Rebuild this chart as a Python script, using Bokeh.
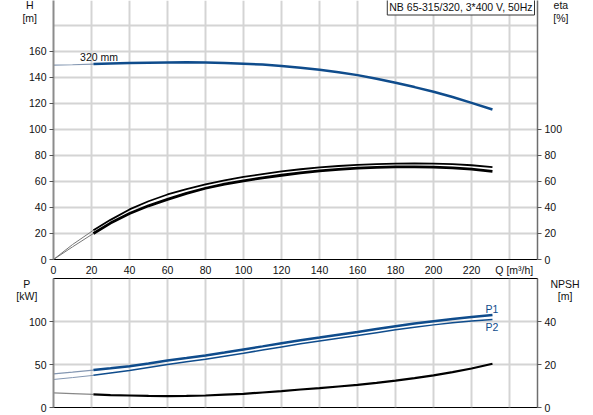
from bokeh.plotting import figure
from bokeh.models import Range1d, LinearAxis, FixedTicker, Label
from bokeh.layouts import column
from bokeh.embed import file_html
from bokeh.resources import INLINE

# ---------------- data ----------------
TITLE = "NB 65-315/320, 3*400 V, 50Hz"
CURVE_LABEL = "320 mm"
Q_LABEL = "Q [m\u00b3/h]"
Q_LABEL_POS = 242.5
X_TICKS = [0, 20, 40, 60, 80, 100, 120, 140, 160, 180, 200, 220]
X_GRID = [20, 40, 60, 80, 100, 120, 140, 160, 180, 200, 220, 240]
H_TICKS = [0, 20, 40, 60, 80, 100, 120, 140, 160]
H_GRID = [20, 40, 60, 80, 100, 120, 140, 160, 180]
ETA_TICKS = [0, 20, 40, 60, 80, 100]
P_TICKS = [0, 50, 100]
NPSH_TICKS = [0, 20, 40]

Q = [0, 10, 21, 30, 40, 50, 60, 70, 80, 90, 100, 110, 120, 130, 140, 150, 160,
     170, 180, 190, 200, 210, 220, 231]
H_320 = [149.5, 149.8, 150.3, 150.7, 151.1, 151.4, 151.6, 151.7, 151.6, 151.2, 150.6,
         149.9, 148.9, 147.5, 145.9, 144.0, 141.8, 139.0, 135.9, 132.6, 129.0, 125.0,
         120.5, 115.4]
ETA_A = [0, 11.5, 22.5, 30.5, 38.5, 44.8, 50.0, 54.2, 57.7, 60.8, 63.5, 65.7, 67.7,
         69.4, 70.8, 71.9, 72.8, 73.4, 73.8, 74.0, 73.8, 73.3, 72.5, 71.0]
ETA_B = [0, 9.7, 20.0, 28.0, 35.4, 41.3, 46.2, 50.8, 54.8, 57.9, 60.5, 62.8, 64.8,
         66.6, 68.1, 69.3, 70.2, 70.8, 71.2, 71.3, 71.0, 70.5, 69.5, 67.7]
P1 = [39.2, 41.3, 43.7, 45.8, 48.2, 51.4, 54.8, 57.7, 60.7, 64.1, 67.7, 71.3, 75.0,
      78.5, 81.6, 85.0, 88.2, 91.6, 94.9, 97.9, 100.7, 103.3, 105.7, 108.0]
P2 = [32.7, 34.9, 37.5, 40.2, 43.2, 46.7, 50.2, 53.3, 56.4, 59.9, 63.4, 67.0, 70.7,
      74.3, 77.6, 80.9, 84.0, 87.3, 90.6, 93.6, 96.4, 98.8, 101.0, 102.7]
NPSH = [6.8, 6.5, 6.1, 5.8, 5.6, 5.4, 5.3, 5.4, 5.6, 6.0, 6.4, 7.0, 7.6, 8.4, 9.0,
        9.8, 10.6, 11.5, 12.5, 13.7, 15.0, 16.5, 18.2, 20.4]
SPLIT = 2  # index where the operating (thick) part of each curve starts

BLUE = "#0f4c8c"
BLUE_THIN = "#8497b2"
FONT = "Liberation Sans"
FS = "10.5px"
TXT = "#111111"
GRID = "#d4d4d4"

X_MAX = 254.7
H_MAX = 199.2
P_MAX = 150.5
NPSH_MAX = P_MAX / 2.5


def style_axis(ax, color, width, ticks):
    ax.ticker = FixedTicker(ticks=ticks)
    ax.axis_line_color = color
    ax.axis_line_width = width
    ax.major_tick_in = 0
    ax.major_tick_out = 4
    ax.major_tick_line_color = "#555555"
    ax.minor_tick_line_color = None
    ax.major_label_text_font = FONT
    ax.major_label_text_font_size = FS
    ax.major_label_text_color = TXT
    ax.major_label_standoff = 3


def mk_label(x, y, text, align="center", color=TXT, units="data",
             baseline="middle"):
    return Label(x=x, y=y, x_units=units, y_units=units, text=text,
                 text_align=align, text_baseline=baseline, text_color=color,
                 text_font=FONT, text_font_size=FS, text_line_height=1.05)


# ---------------- top figure ----------------
p1 = figure(frame_width=484, frame_height=259,
            x_range=Range1d(0, X_MAX), y_range=Range1d(0, H_MAX),
            min_border_left=53, min_border_right=55, min_border_top=0,
            min_border_bottom=18, output_backend="svg", toolbar_location=None)
p1.outline_line_color = None

style_axis(p1.yaxis[0], "#8c8c8c", 2, H_TICKS)
xa = p1.xaxis[0]
style_axis(xa, "black", 1, X_TICKS + [Q_LABEL_POS])
xa.major_tick_out = 0
xa.major_label_standoff = 4
xa.major_label_overrides = {Q_LABEL_POS: Q_LABEL}
ra = LinearAxis()
style_axis(ra, "#6e6e6e", 1.5, ETA_TICKS)
p1.add_layout(ra, "right")

p1.xgrid.ticker = FixedTicker(ticks=X_GRID)
p1.ygrid.ticker = FixedTicker(ticks=H_GRID)
for g in (p1.xgrid, p1.ygrid):
    g.grid_line_color = GRID
    g.grid_line_width = 2

k = SPLIT
# head curve
p1.line(Q[:k + 1], H_320[:k + 1], line_color=BLUE_THIN, line_width=1.2)
p1.line(Q[k:], H_320[k:], line_color=BLUE, line_width=2.5)
# efficiency curves
p1.line(Q[:k + 1], ETA_A[:k + 1], line_color="#777777", line_width=1)
p1.line(Q[:k + 1], ETA_B[:k + 1], line_color="#777777", line_width=1)
p1.line(Q[k:], ETA_A[k:], line_color="black", line_width=1.8)
p1.line(Q[k:], ETA_B[k:], line_color="black", line_width=2.8)

p1.add_layout(mk_label(14, 156, CURVE_LABEL, align="left"))
p1.add_layout(mk_label(-12.5, 190.8, "H\n[m]"), "left")
p1.add_layout(mk_label(267.0, 190.8, "eta\n[%]"), "right")
p1.add_layout(Label(x=481, y=252.5, x_units="screen", y_units="screen", text=TITLE,
                    text_align="right", text_baseline="middle", text_color=TXT,
                    text_font=FONT, text_font_size=FS, padding=2,
                    background_fill_color="white", border_line_color="#333333",
                    border_line_width=1))

# ---------------- bottom figure ----------------
p2 = figure(frame_width=484, frame_height=129,
            x_range=p1.x_range, y_range=Range1d(0, P_MAX), x_axis_location=None,
            min_border_left=53, min_border_right=55, min_border_top=0,
            min_border_bottom=8, output_backend="svg", toolbar_location=None)
p2.extra_y_ranges = {"npsh": Range1d(0, NPSH_MAX)}
p2.outline_line_color = "black"
p2.outline_line_width = 1

style_axis(p2.yaxis[0], "#8c8c8c", 2, P_TICKS)
ra2 = LinearAxis(y_range_name="npsh")
style_axis(ra2, "#6e6e6e", 1.5, NPSH_TICKS)
p2.add_layout(ra2, "right")

p2.xgrid.ticker = FixedTicker(ticks=X_GRID)
p2.ygrid.ticker = FixedTicker(ticks=P_TICKS)
for g in (p2.xgrid, p2.ygrid):
    g.grid_line_color = GRID
    g.grid_line_width = 2

p2.line(Q[:k + 1], P1[:k + 1], line_color=BLUE_THIN, line_width=1.2)
p2.line(Q[:k + 1], P2[:k + 1], line_color=BLUE_THIN, line_width=1)
p2.line(Q[k:], P1[k:], line_color=BLUE, line_width=2.5)
p2.line(Q[k:], P2[k:], line_color=BLUE, line_width=1.5)
p2.line(Q[:k + 1], NPSH[:k + 1], line_color="#888888", line_width=1.2,
        y_range_name="npsh")
p2.line(Q[k:], NPSH[k:], line_color="black", line_width=2.2, y_range_name="npsh")

p2.add_layout(mk_label(230.7, 115.5, "P1", color=BLUE))
p2.add_layout(mk_label(230.7, 93.7, "P2", color=BLUE))
p2.add_layout(mk_label(-14.05, 136.9, "P\n[kW]"), "left")
p2.add_layout(mk_label(269.2, 136.9, "NPSH\n[m]"), "right")

layout = column(p1, p2, spacing=0)
open("out.html", "w").write(file_html(layout, INLINE))
